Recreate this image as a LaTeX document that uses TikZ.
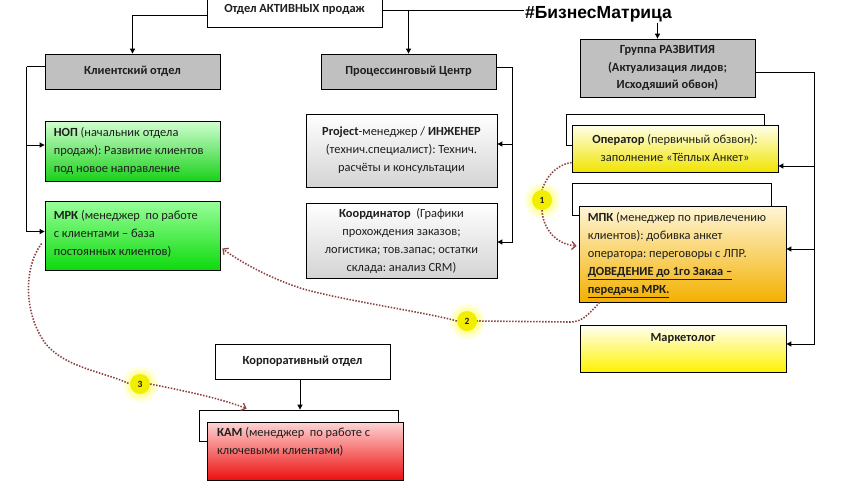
\documentclass[tikz,border=0pt]{standalone}
\usepackage{fontspec}
\setmainfont{Carlito}
\newfontfamily\tagfont{Liberation Sans}
\usetikzlibrary{arrows.meta,calc}
\definecolor{boxgray}{HTML}{C0C0C0}
\definecolor{txt}{HTML}{1E1E1E}
\definecolor{dotc}{HTML}{8E4444}
\definecolor{badgey}{HTML}{F2EE00}
\frenchspacing
\begin{document}
\begin{tikzpicture}[x=1pt,y=-1pt,
  every node/.style={text=txt},
  bx/.style={draw=black, line width=0.8pt, inner sep=0pt, font=\fontsize{12.4}{18}\selectfont},
  hd/.style={bx, font=\bfseries\fontsize{12.4}{18}\selectfont, align=center},
  gbox/.style={hd, fill=boxgray},
  wbox/.style={bx, fill=white},
  ctext/.style={bx, align=center},
  ltxt/.style={align=left, anchor=west, inner sep=0pt, font=\fontsize{12.4}{18}\selectfont},
  arr/.style={draw=black, line width=0.9pt, -{Triangle[length=5pt,width=5pt]}},
  ln/.style={line width=0.9pt},
  dots/.style={draw=dotc, line width=1.6pt, dash pattern=on 1.5pt off 1.5pt},
  dtip/.style={-{Straight Barb[length=4pt,width=8pt,line width=1.3pt]}},
  badge/.style={circle, fill=badgey, minimum size=20pt, inner sep=0pt, font=\bfseries\fontsize{9.5}{9.5}\selectfont}
]
\useasboundingbox (0,0) rectangle (848,483);

% top
\node[hd, fill=white, minimum width=175pt, minimum height=35pt] (top) at (294.5,9.5) {Отдел АКТИВНЫХ продаж};

% left column
\node[gbox, minimum width=175pt, minimum height=35pt] (kl) at (132.5,71.5) {Клиентский отдел};
\node[bx, minimum width=175pt, minimum height=60pt, top color=green!18!white, middle color=green!55!white, bottom color=green!80!black!90!white] (nop) at (132.5,151) {};
\node[ltxt] (noptxt) at ($(nop.west)+(9,0)$)
 {\textbf{НОП} (начальник отдела\\продаж): Развитие клиентов\\под новое направление};
\node[bx, minimum width=175pt, minimum height=69pt, top color=green!40!white, middle color=green!70!white, bottom color=green!85!black!95!white] (mrk) at (132.5,235.5) {};
\node[ltxt] (mrktxt) at ($(mrk.west)+(9,-2)$)
 {\textbf{МРК} (менеджер\ \ по работе\\с клиентами – база\\постоянных клиентов)};

% middle column
\node[gbox, minimum width=175pt, minimum height=35pt] (proc) at (408.5,71.5) {Процессинговый Центр};
\node[ctext, minimum width=191pt, minimum height=73pt, top color=white, bottom color=black!17] (proj) at (401.5,150.5)
 {\textbf{Project}-менеджер / \textbf{ИНЖЕНЕР}\\(технич.специалист): Технич.\\расчёты и консультации};
\node[ctext, minimum width=191pt, minimum height=75pt, top color=white, bottom color=black!17] (koord) at (401.5,240.5)
 {\textbf{Координатор}\ \ (Графики\\прохождения заказов;\\логистика; тов.запас; остатки\\склада: анализ CRM)};

% right column
\node[gbox, minimum width=175pt, minimum height=58pt, font=\bfseries\fontsize{12.4}{17.5}\selectfont] (grp) at (667.5,68)
 {Группа РАЗВИТИЯ\\(Актуализация лидов;\\Исходяший обвон)};
\node[wbox, minimum width=198pt, minimum height=31pt] (operback) at (665,129.5) {};
\node[ctext, minimum width=206pt, minimum height=47pt, top color=yellow!8!white, bottom color={rgb,255:red,240;green,228;blue,0}] (oper) at (675,148.5)
 {\textbf{Оператор} (первичный обзвон):\\заполнение «Тёплых Анкет»};
\node[wbox, minimum width=199pt, minimum height=32pt] (mpkback) at (671.5,199) {};
\node[bx, minimum width=207pt, minimum height=96pt, top color={rgb,255:red,255;green,246;blue,215}, middle color={rgb,255:red,252;green,222;blue,130}, bottom color={rgb,255:red,243;green,176;blue,0}] (mpk) at (682.5,254) {};
\node[ltxt] (mpktxt) at ($(mpk.west)+(9,1)$)
 {\textbf{МПК} (менеджер по привлечению\\клиентов): добивка анкет\\оператора: переговоры с ЛПР.\\\textbf{\underline{ДОВЕДЕНИЕ до 1го Закаа –}}\\\textbf{\underline{передача МРК.}}};
\node[bx, minimum width=206pt, minimum height=47pt, top color=yellow!4!white, bottom color={rgb,255:red,255;green,242;blue,0}] (mark) at (683,348.5) {};
\node[font=\bfseries\fontsize{12.4}{18}\selectfont, inner sep=0pt] (marktxt) at (683,338) {Маркетолог};

% corporate
\node[hd, fill=white, minimum width=175pt, minimum height=35pt] (corp) at (302.5,361.5) {Корпоративный отдел};
\node[wbox, minimum width=199pt, minimum height=31pt] (kamback) at (298.5,425.5) {};
\node[bx, minimum width=196pt, minimum height=58pt, top color={rgb,255:red,255;green,212;blue,212}, middle color={rgb,255:red,247;green,120;blue,120}, bottom color={rgb,255:red,236;green,16;blue,16}] (kam) at (305,451) {};
\node[ltxt, anchor=north west] (kamtxt) at (217,427)
 {\textbf{КАМ} (менеджер\ \ по работе с\\ключевыми клиентами)};

% solid connectors
\draw[arr] ($(top.west)+(0,6)$) -| (kl.north);
\draw[arr] ($(top.east)+(0,0.5)$) -| (proc.north);
\draw[arr] ($(top.east)+(0,0.5)$) -| ($(grp.north)+(-10,0)$);

\draw[ln] ($(kl.west)+(0,-5)$) -- ++(-18,0) coordinate (klbus);
\draw[arr] (klbus) |- ($(nop.west)+(0,-6)$);
\draw[arr] (klbus) |- ($(mrk.west)+(0,-4)$);

\draw[ln] ($(proc.east)+(0,-4.5)$) -- ++(16,0) coordinate (procbus);
\draw[arr] (procbus) |- ($(proj.east)+(0,-6.5)$);
\draw[arr] (procbus) |- ($(koord.east)+(0,1.5)$);

\draw[ln] ($(grp.east)+(0,4)$) -- ++(59,0) coordinate (grpbus);
\draw[arr] (grpbus) |- ($(oper.east)+(0,17.5)$);
\draw[arr] (grpbus) |- ($(mpk.east)+(0,-5)$);
\draw[arr] (grpbus) |- ($(mark.east)+(0,-4.5)$);

\draw[arr] ([xshift=-2.5pt]corp.south) -- ([xshift=1.5pt]kamback.north);

% hashtag
\node[fill=white, inner sep=1pt, font=\tagfont\bfseries\fontsize{17.5}{17.5}\selectfont, text=black] (tag) at (598.5,14) {\#БизнесМатрица};

% badges with glow
\foreach \p/\q in {542/200, 467/321, 140/384}
  \shade[inner color=yellow!85!white, outer color=white] (\p,\q) circle (19pt);
\node[badge] (c1) at (542,200) {1};
\node[badge] (c2) at (467,321) {2};
\node[badge] (c3) at (140,384) {3};

% dotted flows
\draw[dots] ($(oper.west)+(0,14)$) .. controls (555,165) and (546,178) .. (c1.north);
\draw[dots,dtip] (c1.south) .. controls (543,228) and (555,244) .. ($(mpk.west)+(-2,-8)$);

\draw[dots] ($(mpk.south west)+(21,0)$) .. controls (588,315) and (582,322) .. (570,322) -- (c2.east);
\draw[dots,dtip] (c2.west) .. controls (430,313) and (340,300) .. (300,288) .. controls (270,278) and (240,262) .. ($(mrk.east)+(2,13)$);

\draw[dots] ($(mrk.west)+(-3,8)$) .. controls (25,265) and (22,310) .. (45,343) .. controls (65,368) and (105,372) .. (c3.west);
\draw[dots,dtip] (c3.east) .. controls (180,390) and (220,398) .. ($(kamback.north west)+(48,-1)$);
\end{tikzpicture}
\end{document}
